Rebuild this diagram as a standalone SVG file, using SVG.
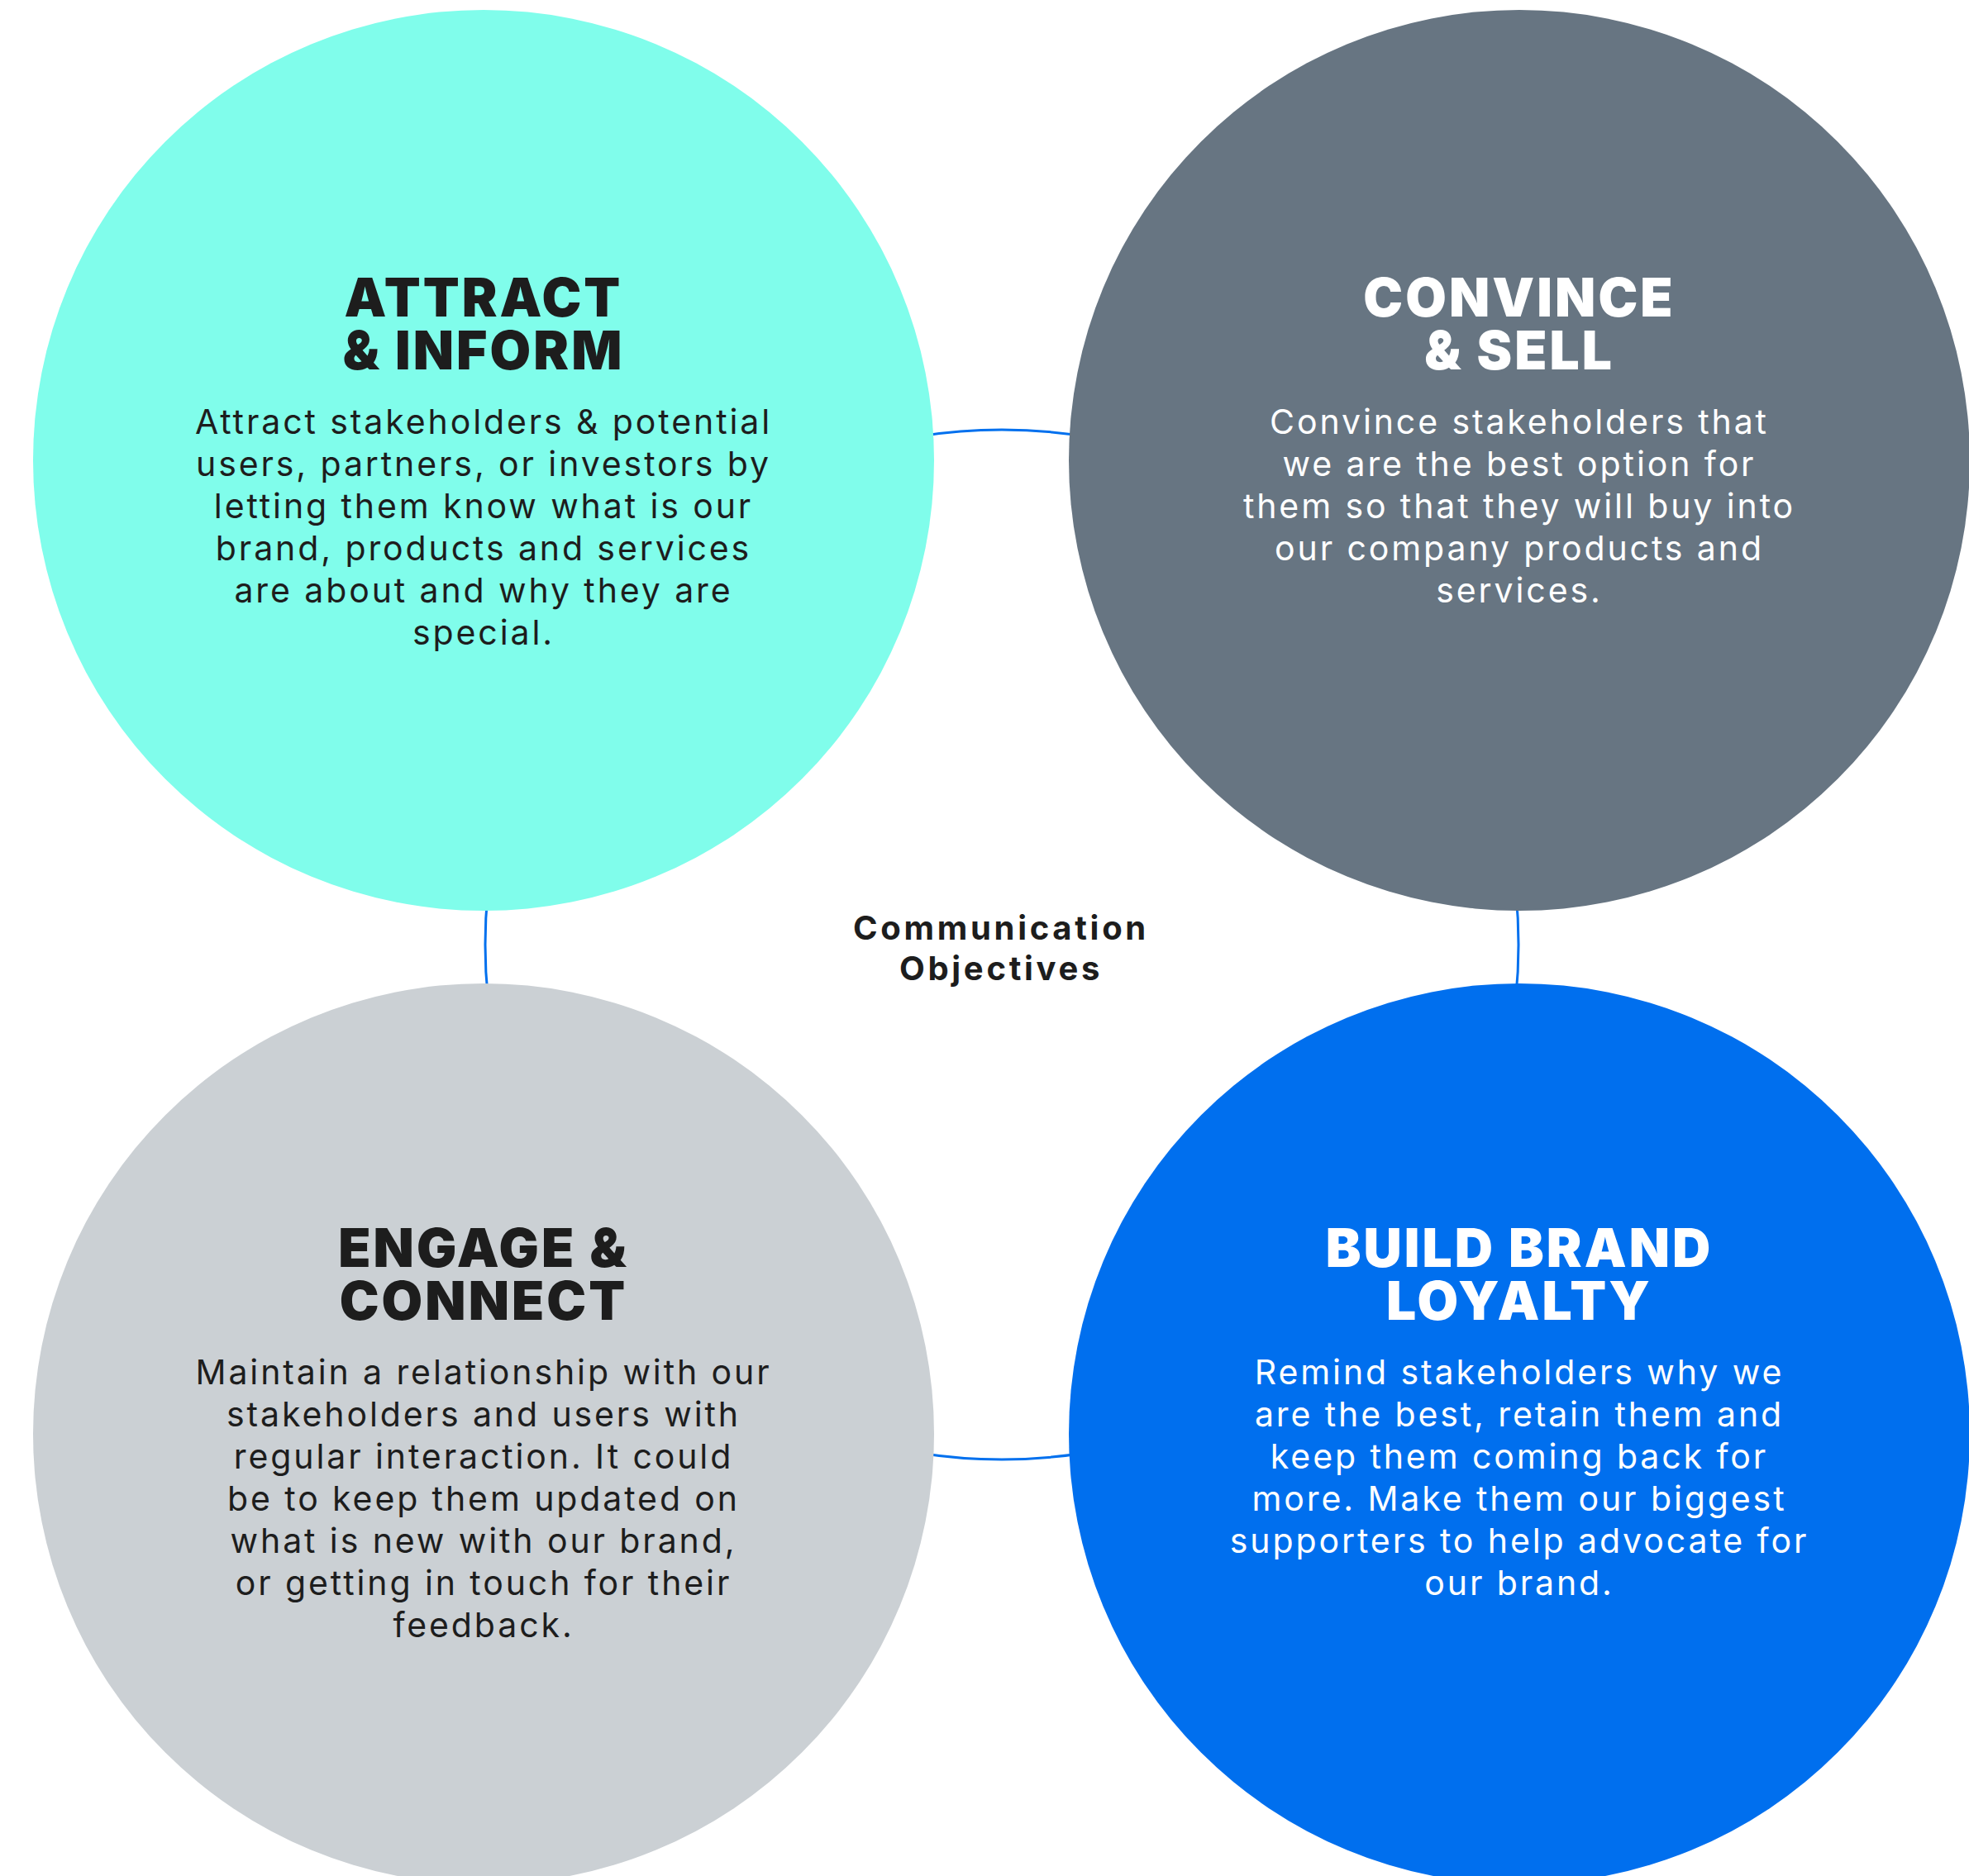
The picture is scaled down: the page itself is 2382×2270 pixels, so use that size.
<svg xmlns="http://www.w3.org/2000/svg" width="2382" height="2270" viewBox="0 0 2382 2270">
<style>
.h{font-family:Inter,"Noto Sans",sans-serif;font-weight:900;font-size:64px;letter-spacing:3.1px;text-anchor:middle}
.b{font-family:Inter,"Noto Sans",sans-serif;font-weight:400;font-size:41px;letter-spacing:2.9px;text-anchor:middle}
.c{font-family:Inter,"Noto Sans",sans-serif;font-weight:700;font-size:40px;letter-spacing:3.7px;text-anchor:middle;fill:#1d1d1d}
.dk{fill:#1d1d1d}
.wt{fill:#ffffff}
</style>
<rect width="2382" height="2270" fill="#ffffff"/>
<g id="connectors">
<ellipse cx="1212" cy="1143" rx="625" ry="623" fill="none" stroke="#0070ee" stroke-width="3"/>
</g>
<g id="center-label">
<text class="c" x="1211" y="1137">Communication</text>
<text class="c" x="1211" y="1186">Objectives</text>
</g>
<g id="attract">
<circle cx="585" cy="557" r="545" fill="#80fdeb"/>
<text class="h dk" x="585" y="383">ATTRACT</text>
<text class="h dk" x="585" y="447">&amp; INFORM</text>
<text class="b dk" x="585" y="525">Attract stakeholders &amp; potential</text>
<text class="b dk" x="585" y="576">users, partners, or investors by</text>
<text class="b dk" x="585" y="627">letting them know what is our</text>
<text class="b dk" x="585" y="678">brand, products and services</text>
<text class="b dk" x="585" y="729">are about and why they are</text>
<text class="b dk" x="585" y="780">special.</text>
</g>
<g id="convince">
<circle cx="1838" cy="557" r="545" fill="#677582"/>
<text class="h wt" x="1838" y="383">CONVINCE</text>
<text class="h wt" x="1838" y="447">&amp; SELL</text>
<text class="b wt" x="1838" y="525">Convince stakeholders that</text>
<text class="b wt" x="1838" y="576">we are the best option for</text>
<text class="b wt" x="1838" y="627">them so that they will buy into</text>
<text class="b wt" x="1838" y="678">our company products and</text>
<text class="b wt" x="1838" y="729">services.</text>
</g>
<g id="engage">
<circle cx="585" cy="1735" r="545" fill="#cbd0d4"/>
<text class="h dk" x="585" y="1533">ENGAGE &amp;</text>
<text class="h dk" x="585" y="1597">CONNECT</text>
<text class="b dk" x="585" y="1675">Maintain a relationship with our</text>
<text class="b dk" x="585" y="1726">stakeholders and users with</text>
<text class="b dk" x="585" y="1777">regular interaction. It could</text>
<text class="b dk" x="585" y="1828">be to keep them updated on</text>
<text class="b dk" x="585" y="1879">what is new with our brand,</text>
<text class="b dk" x="585" y="1930">or getting in touch for their</text>
<text class="b dk" x="585" y="1981">feedback.</text>
</g>
<g id="loyalty">
<circle cx="1838" cy="1735" r="545" fill="#006fee"/>
<text class="h wt" x="1838" y="1533">BUILD BRAND</text>
<text class="h wt" x="1838" y="1597">LOYALTY</text>
<text class="b wt" x="1838" y="1675">Remind stakeholders why we</text>
<text class="b wt" x="1838" y="1726">are the best, retain them and</text>
<text class="b wt" x="1838" y="1777">keep them coming back for</text>
<text class="b wt" x="1838" y="1828">more. Make them our biggest</text>
<text class="b wt" x="1838" y="1879">supporters to help advocate for</text>
<text class="b wt" x="1838" y="1930">our brand.</text>
</g>
</svg>
